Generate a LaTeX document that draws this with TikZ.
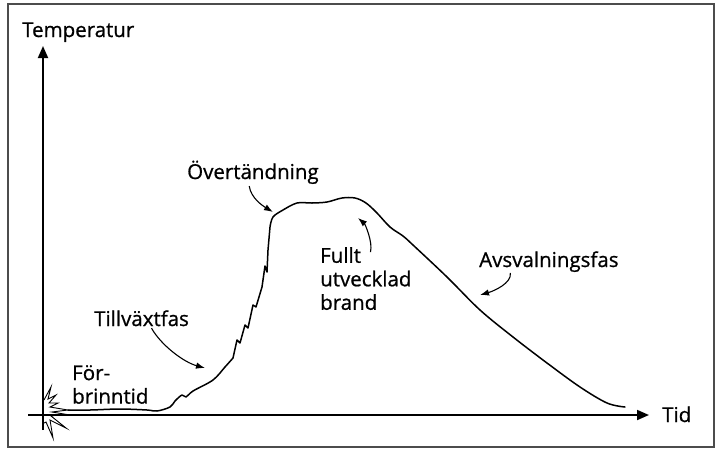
\documentclass[tikz,border=0pt]{standalone}
\usepackage{fontspec}
\setmainfont{Open Sans}[FakeBold=0.8]
\usetikzlibrary{arrows.meta}

\begin{document}
\begin{tikzpicture}[x=1pt, y=-1pt, font=\fontsize{20.5}{23.5}\selectfont,
    etikett/.style={inner sep=0pt, anchor=base west},
    flerrad/.style={inner sep=0pt, anchor=north west, align=left},
    kurva/.style={line width=1.5pt, line join=round, line cap=round},
    axel/.style={line width=1.8pt, -{Triangle[length=12pt, width=10pt]}},
    pil/.style={line width=1.1pt, shorten <=2pt, -{Latex[length=9pt, width=6.5pt]}}]
  \useasboundingbox (0,0) rectangle (717,451);
  % ram runt hela figuren
  \draw[black!70, line width=1.2pt] (8,4) rectangle (714,447);

  % axlar
  \coordinate (ynere) at (43,430);
  \coordinate (ytopp) at (43,46);
  \coordinate (xvanster) at (28,415);
  \coordinate (xhoger) at (649,415);
  \draw[axel] (ynere) -- (ytopp);
  \draw[axel] (xvanster) -- (xhoger);
  \node[etikett] (temp) at (22,37) {Temperatur};
  \node[etikett] (tid) at (662,422) {Tid};

  % gnista vid antandningen
  \draw[line width=0.9pt, line join=miter]
    (44,400) -- (51,387) -- (48,399) -- (56,395) -- (49,403) -- (58,403) -- (50,407)
    -- (68,410) -- (52,412) -- (64,414) -- (51,416) -- (66,428) -- (50,420)
    -- (53,438) -- (46,422) -- (44,423);

  % brandkurvan: forbrinntid, tillvaxt, overtandning, fullt utvecklad, avsvalning
  \draw[kurva] plot[smooth, tension=0.55] coordinates {(68,410) (90,410) (120,409)
      (147,410) (157,411) (170,407) (175,401) (182,395) (186,397) (193,391)
      (213,380) (225,367) (233,358)}
    -- (237,340) -- (240,343) -- (245,325) -- (248,328) -- (253,305) -- (256,307)
    -- (262,287) -- (265,266) -- (267,272) -- (268,250)
    -- plot[smooth, tension=0.55] coordinates {(270,227) (273,217) (283,210)
      (297,203) (312,203) (327,202) (342,198) (355,198) (366,203) (377,213)
      (390,227) (403,236) (413,245) (447,277) (480,310) (513,337) (547,363)
      (580,387) (607,403) (625,407)};

  % punkter som pilarna pekar pa
  \coordinate (ptillv) at (205,368);
  \coordinate (pover) at (273,212);
  \coordinate (pfullt) at (358,218);
  \coordinate (pavsv) at (480,295);

  % texter
  \node[flerrad] (forbr) at (72,365) {För-\\brinntid};
  \node[etikett] (tillv) at (94,326) {Tillväxtfas};
  \node[etikett] (over) at (187,179) {Övertändning};
  \node[flerrad] (fullt) at (320,247) {Fullt\\utvecklad\\brand};
  \node[etikett] (avsv) at (479,267) {Avsvalningsfas};

  % pilar
  \draw[pil] ([xshift=9pt]tillv.south) .. controls +(10,18) and +(-22,-6) .. (ptillv);
  \draw[pil] ([xshift=-4pt]over.south) .. controls +(2,14) and +(-10,-6) .. (pover);
  \draw[pil] ([shift={(50,7)}]fullt.north west) .. controls +(3,-12) and +(7,6) .. (pfullt);
  \draw[pil] ([shift={(31,4)}]avsv.base west) .. controls +(2,12) and +(14,-4) .. (pavsv);
\end{tikzpicture}
\end{document}
